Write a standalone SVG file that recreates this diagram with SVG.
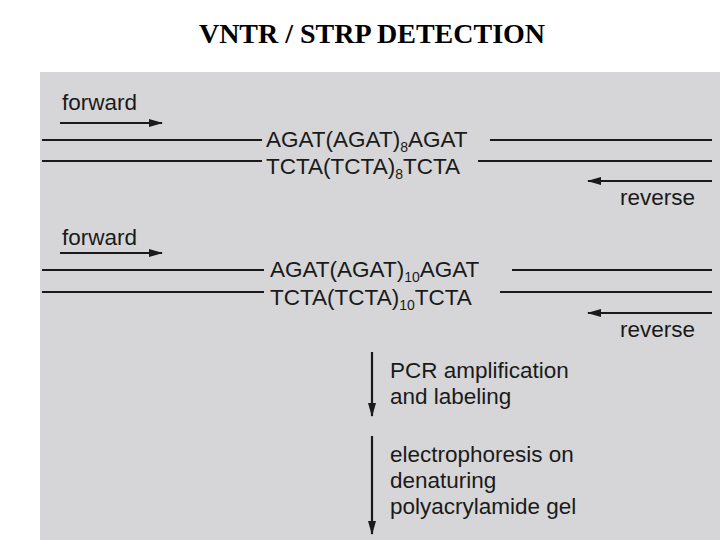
<svg xmlns="http://www.w3.org/2000/svg" width="720" height="540" viewBox="0 0 720 540">
<defs>
<style>
.t{font-family:"Liberation Sans",Arial,sans-serif;font-size:22.5px;fill:#1a1a1a}
.l{stroke:#1a1a1a;stroke-width:2.2;fill:none}
</style>
<marker id="ah" markerWidth="14" markerHeight="10" refX="13" refY="5" orient="auto" markerUnits="userSpaceOnUse">
<path d="M0,1 L14,5 L0,9 Z" fill="#1a1a1a"/>
</marker>
</defs>
<rect width="720" height="540" fill="#fff"/>
<rect x="40" y="72" width="680" height="468" fill="#d6d6d8"/>
<text x="372" y="43" text-anchor="middle" font-family="Liberation Serif,serif" font-weight="bold" font-size="28">VNTR / STRP DETECTION</text>
<g id="block1">
<text class="t" x="62" y="110">forward</text>
<text class="t" x="266" y="147">AGAT(AGAT)<tspan font-size="14" dy="5">8</tspan><tspan dy="-5">AGAT</tspan></text>
<text class="t" x="266" y="174">TCTA(TCTA)<tspan font-size="14" dy="5">8</tspan><tspan dy="-5">TCTA</tspan></text>
<text class="t" x="620" y="205">reverse</text>
</g>
<g id="block2">
<text class="t" x="62" y="245">forward</text>
<text class="t" x="270" y="277">AGAT(AGAT)<tspan font-size="14" dy="5">10</tspan><tspan dy="-5">AGAT</tspan></text>
<text class="t" x="270" y="305">TCTA(TCTA)<tspan font-size="14" dy="5">10</tspan><tspan dy="-5">TCTA</tspan></text>
<text class="t" x="620" y="337">reverse</text>
</g>
<g id="step1"><text class="t" x="390" y="378">PCR amplification</text><text class="t" x="390" y="404">and labeling</text></g>
<g id="step2"><text class="t" x="390" y="462">electrophoresis on</text><text class="t" x="390" y="488">denaturing</text><text class="t" x="390" y="514">polyacrylamide gel</text></g>
<g id="connectors">
<line class="l" x1="60" y1="123" x2="162" y2="123" marker-end="url(#ah)"/>
<line class="l" x1="42" y1="140" x2="262" y2="140"/>
<line class="l" x1="490" y1="140" x2="712" y2="140"/>
<line class="l" x1="42" y1="161" x2="262" y2="161"/>
<line class="l" x1="478" y1="161" x2="712" y2="161"/>
<line class="l" x1="712" y1="181" x2="588" y2="181" marker-end="url(#ah)"/>
<line class="l" x1="60" y1="253" x2="162" y2="253" marker-end="url(#ah)"/>
<line class="l" x1="42" y1="270" x2="264" y2="270"/>
<line class="l" x1="512" y1="270" x2="712" y2="270"/>
<line class="l" x1="42" y1="292" x2="264" y2="292"/>
<line class="l" x1="500" y1="292" x2="712" y2="292"/>
<line class="l" x1="712" y1="313" x2="588" y2="313" marker-end="url(#ah)"/>
<line class="l" x1="372" y1="352" x2="372" y2="416" marker-end="url(#ah)"/>
<line class="l" x1="372" y1="436" x2="372" y2="534" marker-end="url(#ah)"/>
</g>
</svg>
